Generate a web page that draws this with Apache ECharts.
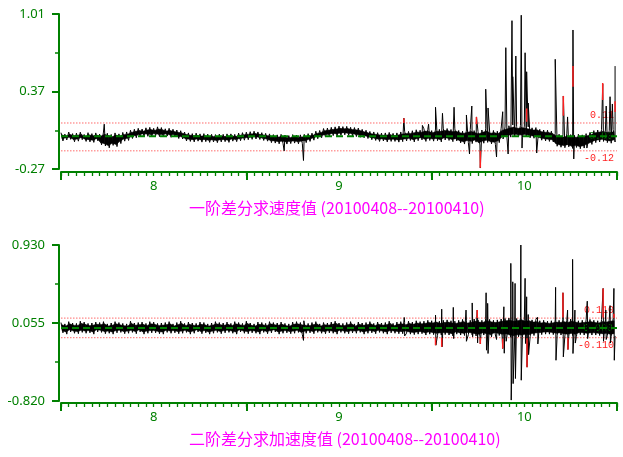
<!DOCTYPE html>
<html><head><meta charset="utf-8">
<script src="https://cdn.jsdelivr.net/npm/echarts@6/dist/echarts.min.js"></script>
<style>html,body{margin:0;padding:0;background:#fff}#c{width:623px;height:457px}</style>
</head><body><div id="c"></div>
<script>
// ---------- data ----------
const hourStart = 180;      // day 7.5
const hourStep = 0.25;
const dayLabels = [8, 9, 10];
const majorTickDays = [7.5, 8.5, 9.5, 10.5];
const yTicksTop = [-0.27, 0.37, 1.01];
const yMinorTop = [0.05, 0.69];
const yTicksBottom = [-0.82, 0.055, 0.93];
const yMinorBottom = [-0.3825, 0.4925];
const thresholdsTop = [0.11, -0.12];
const thresholdsBottom = [0.11, -0.11];
const titleTop = '一阶差分求速度值 (20100408--20100410)';
const titleBottom = '二阶差分求加速度值 (20100408--20100410)';

const baseTop = [
 0.030,-0.038,0.018,-0.030, 0.035,-0.025,0.022,-0.045,
 0.026,-0.040,0.034,-0.028, 0.015,-0.042,0.030,-0.046,
 0.022,-0.050,0.028,-0.036, 0.018,-0.070,0.035,-0.080,
 0.025,-0.095,0.015,-0.075, 0.028,-0.085,0.020,-0.060,
 0.032,-0.040,0.036,-0.034, 0.050,-0.018,0.058,-0.012,
 0.066,-0.004,0.060,0.002, 0.070,0.000,0.074,-0.004,
 0.066,0.004,0.078,-0.002, 0.072,-0.004,0.062,0.002,
 0.066,-0.008,0.058,-0.004, 0.052,-0.018,0.046,-0.022,
 0.035,-0.038,0.028,-0.042, 0.022,-0.046,0.026,-0.040,
 0.020,-0.048,0.022,-0.044, 0.018,-0.050,0.016,-0.046,
 0.014,-0.052,0.018,-0.046, 0.016,-0.044,0.020,-0.050,
 0.020,-0.040,0.016,-0.044, 0.026,-0.036,0.030,-0.032,
 0.034,-0.028,0.038,-0.025, 0.042,-0.022,0.036,-0.026,
 0.030,-0.034,0.024,-0.040, 0.020,-0.052,0.014,-0.056,
 0.012,-0.062,0.016,-0.058, 0.010,-0.064,0.006,-0.060,
 0.014,-0.056,0.010,-0.062, 0.012,-0.058,0.016,-0.052,
 0.022,-0.042,0.026,-0.032, 0.042,-0.020,0.048,-0.012,
 0.064,-0.006,0.068,-0.002, 0.074,0.006,0.078,0.003,
 0.084,0.008,0.080,0.012, 0.082,0.008,0.074,0.004,
 0.072,-0.002,0.068,-0.008, 0.057,-0.012,0.050,-0.018,
 0.040,-0.028,0.036,-0.034, 0.030,-0.042,0.026,-0.038,
 0.028,-0.046,0.032,-0.042, 0.024,-0.042,0.028,-0.048,
 0.036,-0.044,0.042,-0.038, 0.040,-0.034,0.046,-0.046,
 0.054,-0.036,0.050,-0.030, 0.062,-0.042,0.057,-0.034,
 0.047,-0.040,0.060,-0.036, 0.057,-0.046,0.067,-0.030,
 0.064,-0.034,0.056,-0.044, 0.062,-0.038,0.048,-0.054,
 0.042,-0.064,0.052,-0.052, 0.057,-0.060,0.047,-0.048,
 0.040,-0.072,0.052,-0.057, 0.062,-0.050,0.044,-0.062,
 0.048,-0.067,0.042,-0.052, 0.067,-0.022,0.077,-0.012,
 0.087,-0.007,0.094,-0.002, 0.082,-0.004,0.090,-0.008,
 0.084,-0.002,0.078,-0.012, 0.070,-0.016,0.072,-0.022,
 0.057,-0.032,0.052,-0.038, 0.050,-0.042,0.042,-0.047,
 0.022,-0.082,0.017,-0.090, 0.012,-0.094,0.020,-0.087,
 0.014,-0.100,0.008,-0.092, 0.017,-0.102,0.012,-0.097,
 0.022,-0.082,0.032,-0.067, 0.047,-0.052,0.052,-0.047,
 0.057,-0.042,0.052,-0.052, 0.050,-0.057,0.057,-0.047
];
const spikeHoursTop = [185.6,208.9,211.4,224.4,226.8,227.6,228.5,229.4,230.9,232.5,232.9,233.2,233.8,234.3,235.0,235.3,236.4,237.2,237.6,237.9,238.4,238.5,238.9,239.6,239.7,240.1,240.3,240.5,241.6,244.0,245.05,245.6,246.3,246.4,248.1,250.15,250.6,251.1,251.4,251.75];
const spikeValuesTop = [0.10,-0.12,-0.20,0.15,0.09,0.10,0.24,0.19,0.24,0.176,-0.146,0.25,0.16,-0.262,0.389,0.234,-0.171,0.203,0.732,-0.146,0.955,0.492,0.663,1.00,-0.097,0.69,0.533,0.275,-0.138,0.636,0.333,0.16,0.878,-0.187,-0.097,0.432,0.25,0.327,0.267,0.58];
const redHoursTop = [224.4,233.8,234.3,240.3,245.05,246.3,250.15,251.75];
const redFromTop  = [0.11,0.10,-0.12,0.12,0.17,0.41,0.30,0.20];
const redToTop    = [0.15,0.16,-0.26,0.23,0.333,0.58,0.44,0.29];

const baseBottom = [
 0.060,-0.055,0.045,-0.070, 0.070,-0.045,0.055,-0.060,
 0.050,-0.065,0.075,-0.050, 0.065,-0.060,0.050,-0.055,
 0.055,-0.070,0.065,-0.045, 0.060,-0.050,0.070,-0.065,
 0.045,-0.060,0.055,-0.070, 0.070,-0.055,0.060,-0.050,
 0.050,-0.065,0.045,-0.060, 0.075,-0.050,0.055,-0.065,
 0.060,-0.045,0.065,-0.070, 0.050,-0.060,0.070,-0.055,
 0.065,-0.055,0.050,-0.065, 0.055,-0.070,0.060,-0.050,
 0.070,-0.060,0.045,-0.055, 0.060,-0.065,0.075,-0.060,
 0.050,-0.050,0.065,-0.070, 0.055,-0.060,0.050,-0.045,
 0.065,-0.065,0.060,-0.055, 0.045,-0.070,0.055,-0.060,
 0.070,-0.050,0.060,-0.065, 0.055,-0.055,0.065,-0.050,
 0.050,-0.060,0.070,-0.070, 0.060,-0.045,0.050,-0.060,
 0.075,-0.065,0.055,-0.055, 0.045,-0.060,0.065,-0.070,
 0.060,-0.050,0.050,-0.065, 0.070,-0.055,0.060,-0.045,
 0.055,-0.070,0.065,-0.060, 0.050,-0.055,0.045,-0.065,
 0.065,-0.060,0.070,-0.050, 0.060,-0.075,0.055,-0.060,
 0.050,-0.055,0.060,-0.065, 0.070,-0.050,0.045,-0.060,
 0.060,-0.065,0.055,-0.055, 0.065,-0.060,0.075,-0.070,
 0.055,-0.050,0.050,-0.060, 0.060,-0.065,0.070,-0.055,
 0.045,-0.060,0.065,-0.050, 0.055,-0.070,0.060,-0.060,
 0.070,-0.055,0.050,-0.065, 0.065,-0.050,0.055,-0.060,
 0.060,-0.070,0.075,-0.055, 0.050,-0.060,0.065,-0.065,
 0.070,-0.065,0.060,-0.060, 0.075,-0.070,0.065,-0.075,
 0.080,-0.070,0.070,-0.065, 0.075,-0.080,0.085,-0.070,
 0.080,-0.075,0.090,-0.085, 0.075,-0.080,0.085,-0.075,
 0.090,-0.080,0.080,-0.090, 0.075,-0.070,0.085,-0.080,
 0.095,-0.085,0.080,-0.075, 0.085,-0.080,0.100,-0.090,
 0.090,-0.095,0.085,-0.080, 0.105,-0.090,0.095,-0.100,
 0.085,-0.080,0.090,-0.085, 0.100,-0.095,0.105,-0.090,
 0.110,-0.105,0.100,-0.110, 0.105,-0.100,0.115,-0.105,
 0.100,-0.095,0.105,-0.100, 0.090,-0.085,0.095,-0.080,
 0.080,-0.075,0.085,-0.070, 0.075,-0.070,0.080,-0.075,
 0.090,-0.085,0.085,-0.080, 0.095,-0.090,0.085,-0.095,
 0.100,-0.085,0.090,-0.095, 0.080,-0.075,0.085,-0.080,
 0.090,-0.085,0.095,-0.080, 0.085,-0.080,0.080,-0.085,
 0.095,-0.090,0.090,-0.085, 0.100,-0.095,0.105,-0.090
];
const spikeHoursBottom = [211.4,211.45,224.45,224.5,228.5,228.55,229.3,229.35,230.8,230.85,232.45,232.5,233.25,233.3,233.9,233.95,234.3,235.05,235.1,235.25,235.3,236.4,237.15,237.2,237.35,237.4,237.65,238.25,238.3,238.5,238.55,238.8,238.85,239.55,239.6,240.1,240.15,240.3,240.35,240.5,240.55,241.7,241.75,244.05,244.1,245.0,245.05,245.6,245.65,246.25,246.3,246.55,246.6,248.15,248.2,250.2,250.25,250.55,250.6,251.1,251.15,251.6,251.65];
const spikeValuesBottom = [-0.14,0.08,0.117,-0.09,0.143,-0.194,0.21,-0.213,0.23,-0.12,0.20,-0.15,0.28,-0.10,0.20,-0.168,-0.18,0.394,-0.25,0.275,-0.287,-0.13,0.12,-0.231,0.237,-0.284,-0.15,0.724,-0.81,0.517,-0.625,0.499,-0.568,0.93,-0.587,0.556,-0.175,0.349,-0.44,0.15,-0.30,0.12,-0.18,0.455,-0.363,0.394,-0.325,0.20,-0.242,0.769,-0.287,0.20,-0.17,0.30,-0.12,0.443,-0.15,0.20,-0.13,0.25,-0.17,0.443,-0.363];
const redHoursBottom = [228.5,229.3,233.9,234.3,237.2,240.35,245.0,245.65,250.2,251.6];
const redFromBottom  = [-0.11,-0.11,0.11,-0.11,-0.12,-0.115,0.117,-0.11,0.117,0.11];
const redToBottom    = [-0.194,-0.213,0.20,-0.18,-0.231,-0.44,0.394,-0.242,0.443,0.16];

// ---------- build ----------
const GREEN = '#008000';
const RED_DOT = '#ff6a6a';
function mergePoints(base, sh, sv) {
  const pts = base.map((v, i) => [(hourStart + i * hourStep) / 24, v]);
  sh.forEach((h, j) => pts.push([h / 24, sv[j]]));
  pts.sort((a, b) => a[0] - b[0]);
  return pts;
}
function envelope(base) {
  const out = [];
  for (let k = 0; k + 1 < base.length; k += 2) out.push([(hourStart + (k + 0.5) * hourStep) / 24, base[k], base[k + 1]]);
  return out;
}
function redData(hs, from, to) { return hs.map((h, i) => [h / 24, from[i], to[i]]); }
const hourlyTicks = [];
for (let h = hourStart; h <= 252; h += 1) hourlyTicks.push(h / 24);

const INSET = 2.2; // px: dense core drawn slightly inside the sample extremes
const envRender = (params, api) => {
  const i = params.dataIndexInside;
  if (i + 1 >= params.dataInsideLength) return null;
  const a1 = api.coord([api.value(0, i), api.value(1, i)]);
  const a2 = api.coord([api.value(0, i), api.value(2, i)]);
  const b1 = api.coord([api.value(0, i + 1), api.value(1, i + 1)]);
  const b2 = api.coord([api.value(0, i + 1), api.value(2, i + 1)]);
  a1[1] += INSET; b1[1] += INSET; a2[1] -= INSET; b2[1] -= INSET;
  return { type: 'polygon', shape: { points: [a1, b1, b2, a2] },
    style: { fill: '#000', stroke: '#000', lineWidth: 0.5 } };
};
const redRender = (params, api) => {
  const p1 = api.coord([api.value(0), api.value(1)]);
  const p2 = api.coord([api.value(0), api.value(2)]);
  return { type: 'line', shape: { x1: p1[0], y1: p1[1], x2: p2[0], y2: p2[1] },
    style: { stroke: '#ff2020', lineWidth: 1.5 } };
};
function refLine(xi, yi, value, color, dash, width, text, pos, dist, labelColor, z) {
  return {
    type: 'line', xAxisIndex: xi, yAxisIndex: yi, color: color,
    data: [[7.5, value], [10.5, value]], showSymbol: false, symbol: 'none', silent: true, z: z,
    lineStyle: { color: color, type: dash, width: width },
    markLine: {
      silent: true, symbol: 'none', animation: false,
      lineStyle: { color: 'rgba(255,255,255,0)', width: 0.1 },
      label: { show: true, position: pos, distance: dist, color: labelColor,
        fontFamily: 'Liberation Mono', fontSize: 10, formatter: text },
      data: [{ yAxis: value }]
    }
  };
}
function xAxes(gridIndex, offset) {
  return [
    { type: 'value', gridIndex, position: 'bottom', offset, min: 7.5, max: 10.5,
      axisLine: { show: true, onZero: false, lineStyle: { color: GREEN, width: 2 } },
      axisTick: { show: true, customValues: hourlyTicks, length: 4, lineStyle: { color: GREEN, width: 1.3 } },
      axisLabel: { show: true, customValues: dayLabels, margin: 8, color: GREEN, fontSize: 13, fontFamily: 'Noto Sans',
        formatter: v => String(Math.round(v)) },
      splitLine: { show: false } },
    { type: 'value', gridIndex, position: 'bottom', offset, min: 7.5, max: 10.5,
      axisLine: { show: false, onZero: false },
      axisTick: { show: true, customValues: majorTickDays, length: 8, lineStyle: { color: GREEN, width: 2 } },
      axisLabel: { show: false }, splitLine: { show: false } }
  ];
}
function yAxes(gridIndex, ticks, minor, digits) {
  return [
    { type: 'value', gridIndex, position: 'left', offset: 2, min: ticks[0], max: ticks[ticks.length - 1],
      axisLine: { show: true, onZero: false, lineStyle: { color: GREEN, width: 2 } },
      axisTick: { show: true, customValues: ticks, length: 7, lineStyle: { color: GREEN, width: 2 } },
      axisLabel: { show: true, customValues: ticks, margin: 14, color: GREEN, fontSize: 13, fontFamily: 'Noto Sans',
        formatter: v => v.toFixed(digits) },
      splitLine: { show: false } },
    { type: 'value', gridIndex, position: 'left', offset: 2, min: ticks[0], max: ticks[ticks.length - 1],
      axisLine: { show: false, onZero: false },
      axisTick: { show: true, customValues: minor, length: 4, lineStyle: { color: GREEN, width: 1.5 } },
      axisLabel: { show: false }, splitLine: { show: false } }
  ];
}
const titleStyle = { color: '#ff00ff', fontSize: 16, fontWeight: 'normal', fontFamily: 'Noto Sans CJK SC' };

function panelSeries(xi, yi, base, sh, sv, rh, rf, rt, th, zeroText, upText, loText, zeroDist) {
  return [
    refLine(xi, yi, th[0], RED_DOT, [1.5, 1.5], 1, upText, 'insideEndTop', 3, '#ff2020', 4),
    refLine(xi, yi, th[1], RED_DOT, [1.5, 1.5], 1, loText, 'insideEndBottom', 3, '#ff2020', 4),
    { type: 'custom', xAxisIndex: xi, yAxisIndex: yi, data: envelope(base), renderItem: envRender,
      encode: { x: 0, y: [1, 2] }, silent: true, z: 5 },
    { type: 'line', xAxisIndex: xi, yAxisIndex: yi, data: mergePoints(base, sh, sv),
      showSymbol: false, symbol: 'none', sampling: null, color: '#000',
      lineStyle: { color: '#000', width: 1 }, silent: true, z: 6 },
    { type: 'custom', xAxisIndex: xi, yAxisIndex: yi, data: redData(rh, rf, rt),
      renderItem: redRender, encode: { x: 0, y: [1, 2] }, silent: true, z: 7 },
    refLine(xi, yi, 0, GREEN, [7, 4], 2, zeroText, 'end', zeroDist, GREEN, 8)
  ];
}

const option = {
  animation: false,
  backgroundColor: '#ffffff',
  title: [
    { text: titleTop, left: 189, top: 200, padding: 0, textStyle: titleStyle },
    { text: titleBottom, left: 189, top: 431, padding: 0, textStyle: titleStyle }
  ],
  grid: [
    { left: 61, top: 14, width: 556, height: 155 },
    { left: 61, top: 245, width: 556, height: 156 }
  ],
  xAxis: [...xAxes(0, 3), ...xAxes(1, 2)],
  yAxis: [...yAxes(0, yTicksTop, yMinorTop, 2), ...yAxes(1, yTicksBottom, yMinorBottom, 3)],
  series: [
    ...panelSeries(0, 0, baseTop, spikeHoursTop, spikeValuesTop, redHoursTop, redFromTop, redToTop,
      thresholdsTop, '0.00', '0.11', '-0.12', -28),
    ...panelSeries(2, 2, baseBottom, spikeHoursBottom, spikeValuesBottom, redHoursBottom, redFromBottom, redToBottom,
      thresholdsBottom, '0.000', '0.110', '-0.110', -34)
  ]
};
const chart = echarts.init(document.getElementById('c'), null, { renderer: 'canvas' });
chart.setOption(option);
</script></body></html>
